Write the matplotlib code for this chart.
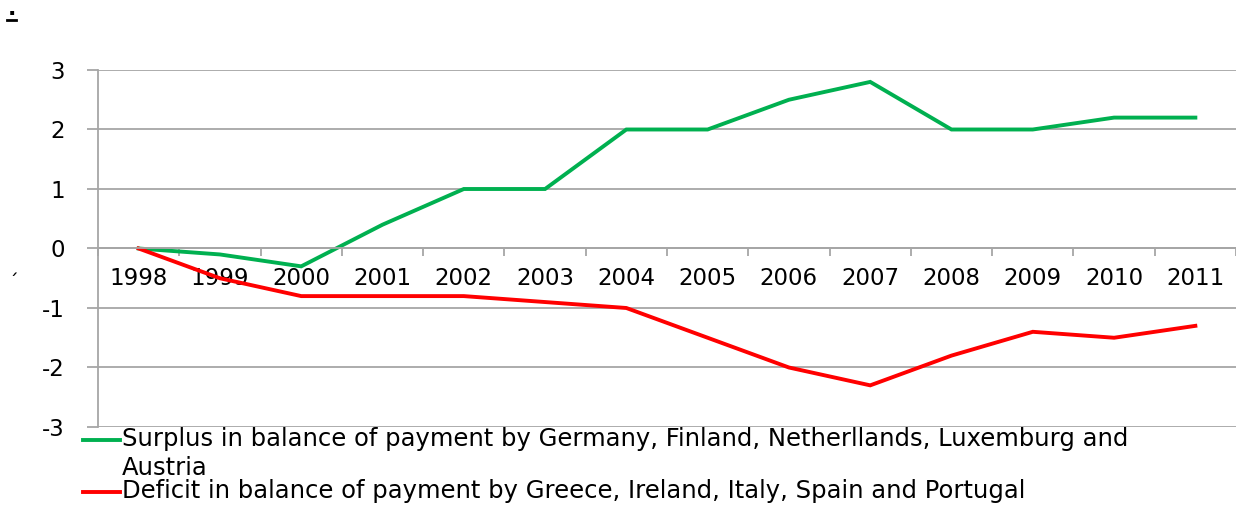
import matplotlib
matplotlib.use("Agg")
import matplotlib.pyplot as plt
from matplotlib.lines import Line2D
import numpy as np

years = ["1998", "1999", "2000", "2001", "2002", "2003", "2004",
         "2005", "2006", "2007", "2008", "2009", "2010", "2011"]
surplus = [0, -0.1, -0.3, 0.4, 1.0, 1.0, 2.0, 2.0, 2.5, 2.8, 2.0, 2.0, 2.2, 2.2]
deficit = [0, -0.5, -0.8, -0.8, -0.8, -0.9, -1.0, -1.5, -2.0, -2.3, -1.8, -1.4, -1.5, -1.3]
surplus_label = ("Surplus in balance of payment by Germany, Finland, Netherllands, Luxemburg and\n"
                 "Austria")
deficit_label = "Deficit in balance of payment by Greece, Ireland, Italy, Spain and Portugal"

green = "#00B050"
red = "#FF0000"
grid_c = "#A6A6A6"

plt.rcParams["font.family"] = ["DejaVu Sans"]
plt.rcParams["axes.unicode_minus"] = False

fig = plt.figure(figsize=(12.36, 5.07), dpi=100)
W, H = 1236, 507
ax = fig.add_axes([98 / W, 1 - 427 / H, (1236 - 98) / W, (427 - 70) / H])

x = np.arange(len(years))
ax.plot(x, surplus, color=green, lw=2.8, solid_joinstyle="miter")
ax.plot(x, deficit, color=red, lw=2.8, solid_joinstyle="miter")

ax.set_xlim(-0.5, len(years) - 0.5)
ax.set_ylim(-3, 3)
ax.set_yticks(range(-3, 4))
ax.yaxis.grid(True, color=grid_c, lw=1.3)
ax.set_axisbelow(True)

for s in ["top", "right"]:
    ax.spines[s].set_visible(False)
ax.spines["left"].set_color(grid_c)
ax.spines["left"].set_linewidth(1.3)
ax.spines["bottom"].set_position(("data", 0))
ax.spines["bottom"].set_color(grid_c)
ax.spines["bottom"].set_linewidth(1.3)

ax.set_xticks(x)
ax.set_xticklabels(years)
ax.set_xticks(np.arange(len(years) + 1) - 0.5, minor=True)
ax.tick_params(axis="x", which="major", length=0, pad=13, labelsize=16.5)
ax.tick_params(axis="x", which="minor", length=6, width=1.3, color=grid_c, direction="out")
ax.tick_params(axis="y", length=8, width=1.3, color=grid_c, pad=16, labelsize=16.5)

# legend drawn below the plot area
def px(xp, yp):
    return xp / W, 1 - yp / H

for (yp, col, lab) in [(440, green, surplus_label), (492, red, deficit_label)]:
    x0, y0 = px(83, yp)
    x1, _ = px(120, yp)
    fig.add_artist(Line2D([x0, x1], [y0, y0], color=col, lw=2.8,
                          transform=fig.transFigure))
    tx, ty = px(122, yp - 13)
    fig.text(tx, ty, lab, fontsize=17.5, va="top", ha="left", linespacing=1.25)

# stray marks in the original image
fig.text(*px(8, 19), ".", fontsize=16, va="bottom", fontweight="bold")
fig.add_artist(Line2D([7 / W, 16 / W], [1 - 20 / H] * 2, color="black", lw=2,
                      transform=fig.transFigure))
fig.text(*px(8, 292), "\u00b4", fontsize=14, va="bottom")

fig.savefig("out.png", dpi=100)
